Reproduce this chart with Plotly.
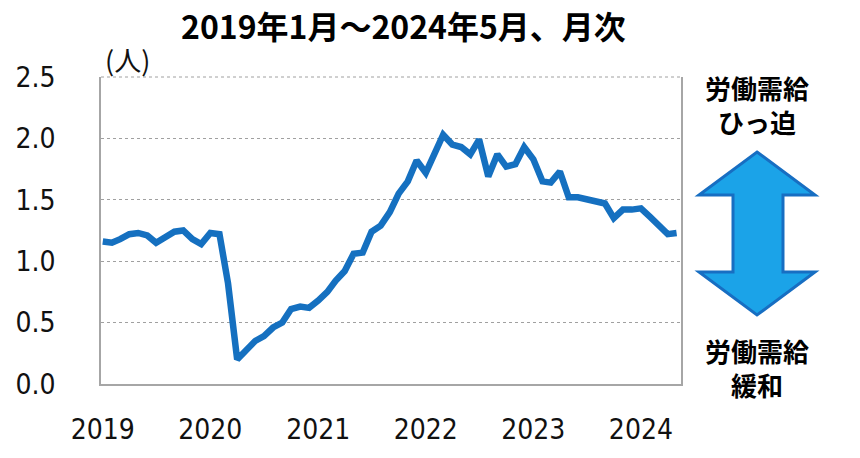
import plotly.graph_objects as go
import pandas as pd

# ---- data ----
start_month = "2019-01-01"
ratio = [1.16, 1.15, 1.18, 1.22, 1.23, 1.21, 1.15, 1.20, 1.24, 1.25, 1.18, 1.14,
         1.23, 1.22, 0.82, 0.20, 0.27, 0.35, 0.39, 0.46, 0.50, 0.61, 0.63, 0.62,
         0.68, 0.75, 0.84, 0.92, 1.06, 1.07, 1.24, 1.29, 1.40, 1.55, 1.65, 1.82,
         1.72, 1.87, 2.03, 1.95, 1.93, 1.87, 1.99, 1.69, 1.87, 1.77, 1.79, 1.93,
         1.83, 1.65, 1.64, 1.73, 1.52, 1.52, 1.50, 1.48, 1.47, 1.35, 1.42, 1.42,
         1.43, 1.36, 1.30, 1.22, 1.23]
year_ticks = ["2019-01-01", "2020-01-01", "2021-01-01", "2022-01-01", "2023-01-01", "2024-01-01"]
year_labels = ["2019", "2020", "2021", "2022", "2023", "2024"]
y_ticks = [0.0, 0.5, 1.0, 1.5, 2.0, 2.5]
title_text = "2019年1月～2024年5月、月次"
unit_text = "(人)"
top_label = ["労働需給", "ひっ迫"]
bottom_label = ["労働需給", "緩和"]

months = pd.date_range(start_month, periods=len(ratio), freq="MS")

W, H = 860, 458
ML, MR, MT, MB = 101, 179, 77, 74
PW, PH = W - ML - MR, H - MT - MB

def px(x):
    return (x - ML) / PW

def py(y):
    return (H - MB - y) / PH

LINE_COLOR = "#1570C0"
TICK_FONT = dict(family="DejaVu Sans Condensed, DejaVu Sans, sans-serif", size=28, color="#111111")
CJK_BOLD = "Noto Sans CJK JP"

fig = go.Figure()
fig.add_trace(go.Scatter(
    x=months, y=ratio, mode="lines",
    line=dict(color=LINE_COLOR, width=6.5, shape="linear"),
    hoverinfo="skip", showlegend=False,
))

fig.update_xaxes(
    range=["2018-12-26", "2024-05-16"],
    tickvals=year_ticks, ticktext=year_labels,
    showgrid=False, showline=True, linecolor="#A6A6A6", linewidth=1.5,
    ticks="", tickfont=TICK_FONT, ticklabelstandoff=20,
    zeroline=False,
)
fig.update_yaxes(
    range=[0, 2.5], tickvals=y_ticks, tickformat=".1f",
    showgrid=True, gridcolor="#A0A0A0", gridwidth=1, griddash="3px,3px",
    showline=True, mirror=True, linecolor="#A6A6A6", linewidth=1.5,
    ticks="", tickfont=TICK_FONT, ticklabelstandoff=38,
    zeroline=False,
)

# top border dashed like gridlines
fig.add_shape(type="line", xref="paper", yref="paper", x0=0, x1=1, y0=1, y1=1,
              line=dict(color="#A0A0A0", width=1, dash="3px,3px"))

# double-headed arrow (decoration), pixel coordinates -> paper
cx = 757
arrow_px = [
    (cx, 152), (cx + 58, 195), (cx + 26, 195), (cx + 26, 272), (cx + 58, 272),
    (cx, 315), (cx - 58, 272), (cx - 24, 272), (cx - 24, 195), (cx - 58, 195),
]
path = "M " + " L ".join(f"{px(a):.5f},{py(b):.5f}" for a, b in arrow_px) + " Z"
fig.add_shape(type="path", xref="paper", yref="paper", path=path,
              fillcolor="#1BA3E8", line=dict(color="#176EC2", width=3))

annos = []
annos.append(dict(text=f"<b>{title_text}</b>", x=px(403), y=py(25), xref="paper", yref="paper",
                  showarrow=False, xanchor="center", yanchor="middle",
                  font=dict(family=CJK_BOLD, size=32, color="#000000")))
annos.append(dict(text=unit_text, x=px(127), y=py(60), xref="paper", yref="paper",
                  showarrow=False, xanchor="center", yanchor="middle",
                  font=dict(family="Noto Sans CJK JP", size=27, color="#111111")))
annos.append(dict(text="<br>".join(f"<b>{t}</b>" for t in top_label),
                  x=px(cx), y=py(104), xref="paper", yref="paper",
                  showarrow=False, xanchor="center", yanchor="middle",
                  font=dict(family=CJK_BOLD, size=26, color="#000000")))
annos.append(dict(text="<br>".join(f"<b>{t}</b>" for t in bottom_label),
                  x=px(cx), y=py(367), xref="paper", yref="paper",
                  showarrow=False, xanchor="center", yanchor="middle",
                  font=dict(family=CJK_BOLD, size=26, color="#000000")))

fig.update_layout(
    width=W, height=H,
    margin=dict(l=ML, r=MR, t=MT, b=MB),
    paper_bgcolor="white", plot_bgcolor="white",
    annotations=annos, showlegend=False,
)

fig.write_html("out.html", config={"displayModeBar": False},
               post_script="document.body.style.margin='0';")
